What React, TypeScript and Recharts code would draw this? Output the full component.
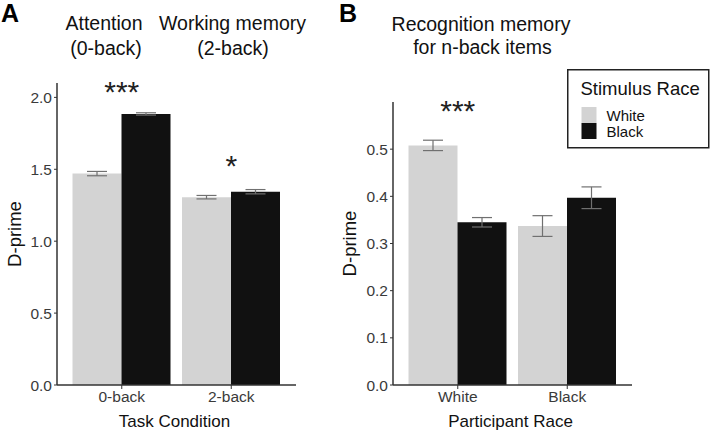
import React from "react";
import { BarChart, Bar, XAxis, YAxis, ErrorBar, ReferenceDot, Legend } from "recharts";

const FONT = '"Liberation Sans", Arial, Helvetica, sans-serif';
const LIGHT = "#d3d3d3";
const DARK = "#111111";
const AXIS = "#333333";

// Panel A: n-back task performance
const conditions = ["0-back", "2-back"];
const attnWhite = [1.47, 1.306];
const attnWhiteSe = [0.015, 0.012];
const attnBlack = [1.885, 1.344];
const attnBlackSe = [0.008, 0.015];
const sigA = ["***", "*"];
const sigAY = [2.06, 1.545];

// Panel B: recognition memory
const participants = ["White", "Black"];
const recogWhite = [0.508, 0.337];
const recogWhiteSe = [0.011, 0.022];
const recogBlack = [0.345, 0.397];
const recogBlackSe = [0.01, 0.023];
const sigB = ["***", ""];
const sigBY = [0.587, 0];

const stimulusRaces = ["White", "Black"];
const raceColors = [LIGHT, DARK];

const ticksA = [0, 0.5, 1, 1.5, 2];
const ticksB = [0, 0.1, 0.2, 0.3, 0.4, 0.5];

const dataA = conditions.map((c, i) => ({
  cond: c,
  white: attnWhite[i],
  whiteSe: attnWhiteSe[i],
  black: attnBlack[i],
  blackSe: attnBlackSe[i],
}));

const dataB = participants.map((p, i) => ({
  part: p,
  white: recogWhite[i],
  whiteSe: recogWhiteSe[i],
  black: recogBlack[i],
  blackSe: recogBlackSe[i],
}));

const tickStyle = { fontSize: 15.5, fill: "#3a3a3a", fontFamily: FONT };

// asterisk glyph sits high, so push baseline below the anchor point
const Stars = (text: string) => (props: any) => {
  const vb = props.viewBox || {};
  const cx = vb.x + (vb.width || 0) / 2;
  const cy = vb.y + (vb.height || 0) / 2;
  return (
    <text x={cx} y={cy + 13} textAnchor="middle" fontSize={30} fontFamily={FONT} fill="#222">
      {text}
    </text>
  );
};

const yLabel = (dx: number) => (props: any) => {
  const vb = props.viewBox;
  const x = vb.x + dx;
  const y = vb.y + vb.height / 2;
  return (
    <text x={x} y={y} transform={`rotate(-90 ${x} ${y})`} textAnchor="middle" dominantBaseline="central" fontSize={18.5} fontFamily={FONT} fill="#111">
      D-prime
    </text>
  );
};

const xLabel = (text: string) => (props: any) => {
  const vb = props.viewBox;
  return (
    <text x={vb.x + vb.width / 2 - 2} y={vb.y + 42} textAnchor="middle" fontSize={17} fontFamily={FONT} fill="#111">
      {text}
    </text>
  );
};

const LegendBox = () => (
  <svg width={144} height={80} style={{ display: "block" }}>
    <rect x={0.75} y={0.75} width={141} height={78} fill="#fff" stroke="#222" strokeWidth={1.5} />
    <text x={13.5} y={25.5} fontSize={18.5} fontFamily={FONT} fill="#111">Stimulus Race</text>
    {stimulusRaces.map((r, i) => (
      <g key={r}>
        <rect x={14.5} y={38 + i * 16} width={15} height={16} fill={raceColors[i]} />
        <text x={39.5} y={51.5 + i * 16} fontSize={15} fontFamily={FONT} fill="#111">{r}</text>
      </g>
    ))}
  </svg>
);

export default function App() {
  return (
    <div style={{ position: "absolute", left: 0, top: 0, width: 712, height: 433, background: "#fff", fontFamily: FONT }}>
      <div style={{ position: "absolute", left: 0, top: 0 }}>
        <BarChart width={330} height={433} data={dataA} margin={{ top: 83, right: 34, bottom: 0, left: 0 }} barGap={0} barCategoryGap={5.5}>
          <XAxis
            dataKey="cond"
            height={48}
            padding={{ left: 10, right: 10 }}
            tickSize={4}
            tick={tickStyle}
            axisLine={{ stroke: AXIS, strokeWidth: 1.5 }}
            tickLine={{ stroke: AXIS }}
            label={xLabel("Task Condition")}
          />
          <YAxis
            width={57}
            domain={[0, 2.1]}
            ticks={ticksA}
            tickFormatter={(v: number) => v.toFixed(1)}
            tickSize={3}
            tickMargin={2}
            tick={tickStyle}
            axisLine={{ stroke: AXIS, strokeWidth: 1.5 }}
            tickLine={{ stroke: AXIS }}
            allowDataOverflow
            label={yLabel(14)}
          />
          <Bar dataKey="white" fill={LIGHT} isAnimationActive={false}>
            <ErrorBar dataKey="whiteSe" width={10} stroke="#707070" strokeWidth={1.2} />
          </Bar>
          <Bar dataKey="black" fill={DARK} isAnimationActive={false}>
            <ErrorBar dataKey="blackSe" width={10} stroke="#707070" strokeWidth={1.2} />
          </Bar>
          {conditions.map((c, i) => (
            <ReferenceDot key={c} x={c} y={sigAY[i]} r={0} stroke="none" label={Stars(sigA[i])} />
          ))}
        </BarChart>
      </div>

      <div style={{ position: "absolute", left: 330, top: 0 }}>
        <BarChart width={382} height={433} data={dataB} margin={{ top: 102, right: 80, bottom: 0, left: 0 }} barGap={0} barCategoryGap={5.5}>
          <XAxis
            dataKey="part"
            height={48}
            padding={{ left: 10, right: 10 }}
            tickSize={4}
            tick={tickStyle}
            axisLine={{ stroke: AXIS, strokeWidth: 1.5 }}
            tickLine={{ stroke: AXIS }}
            label={xLabel("Participant Race")}
          />
          <YAxis
            width={63}
            domain={[0, 0.6]}
            ticks={ticksB}
            tickFormatter={(v: number) => v.toFixed(1)}
            tickSize={3}
            tickMargin={2}
            tick={tickStyle}
            axisLine={{ stroke: AXIS, strokeWidth: 1.5 }}
            tickLine={{ stroke: AXIS }}
            allowDataOverflow
            label={yLabel(19)}
          />
          <Bar dataKey="white" fill={LIGHT} isAnimationActive={false}>
            <ErrorBar dataKey="whiteSe" width={10} stroke="#707070" strokeWidth={1.2} />
          </Bar>
          <Bar dataKey="black" fill={DARK} isAnimationActive={false}>
            <ErrorBar dataKey="blackSe" width={10} stroke="#707070" strokeWidth={1.2} />
          </Bar>
          {participants.map((p, i) =>
            sigB[i] ? <ReferenceDot key={p} x={p} y={sigBY[i]} r={0} stroke="none" label={Stars(sigB[i])} /> : null
          )}
          <Legend
            layout="vertical"
            align="center"
            verticalAlign="middle"
            content={() => <LegendBox />}
            wrapperStyle={{ left: 237, top: 69, width: 144, height: 80 }}
          />
        </BarChart>
      </div>

      <svg width={712} height={433} style={{ position: "absolute", left: 0, top: 0, pointerEvents: "none" }}>
        <text x={1} y={22} fontSize={25} fontWeight={900} fontFamily={FONT} fill="#000">A</text>
        <text x={339} y={22} fontSize={25} fontWeight={900} fontFamily={FONT} fill="#000">B</text>
        <g fontSize={19.5} fontFamily={FONT} fill="#111" textAnchor="middle">
          <text x={104} y={30}>Attention</text>
          <text x={106} y={54.5}>(0-back)</text>
          <text x={232.5} y={30}>Working memory</text>
          <text x={233} y={54.5}>(2-back)</text>
          <text x={481} y={31}>Recognition memory</text>
          <text x={482.5} y={54}>for n-back items</text>
        </g>
      </svg>
    </div>
  );
}
